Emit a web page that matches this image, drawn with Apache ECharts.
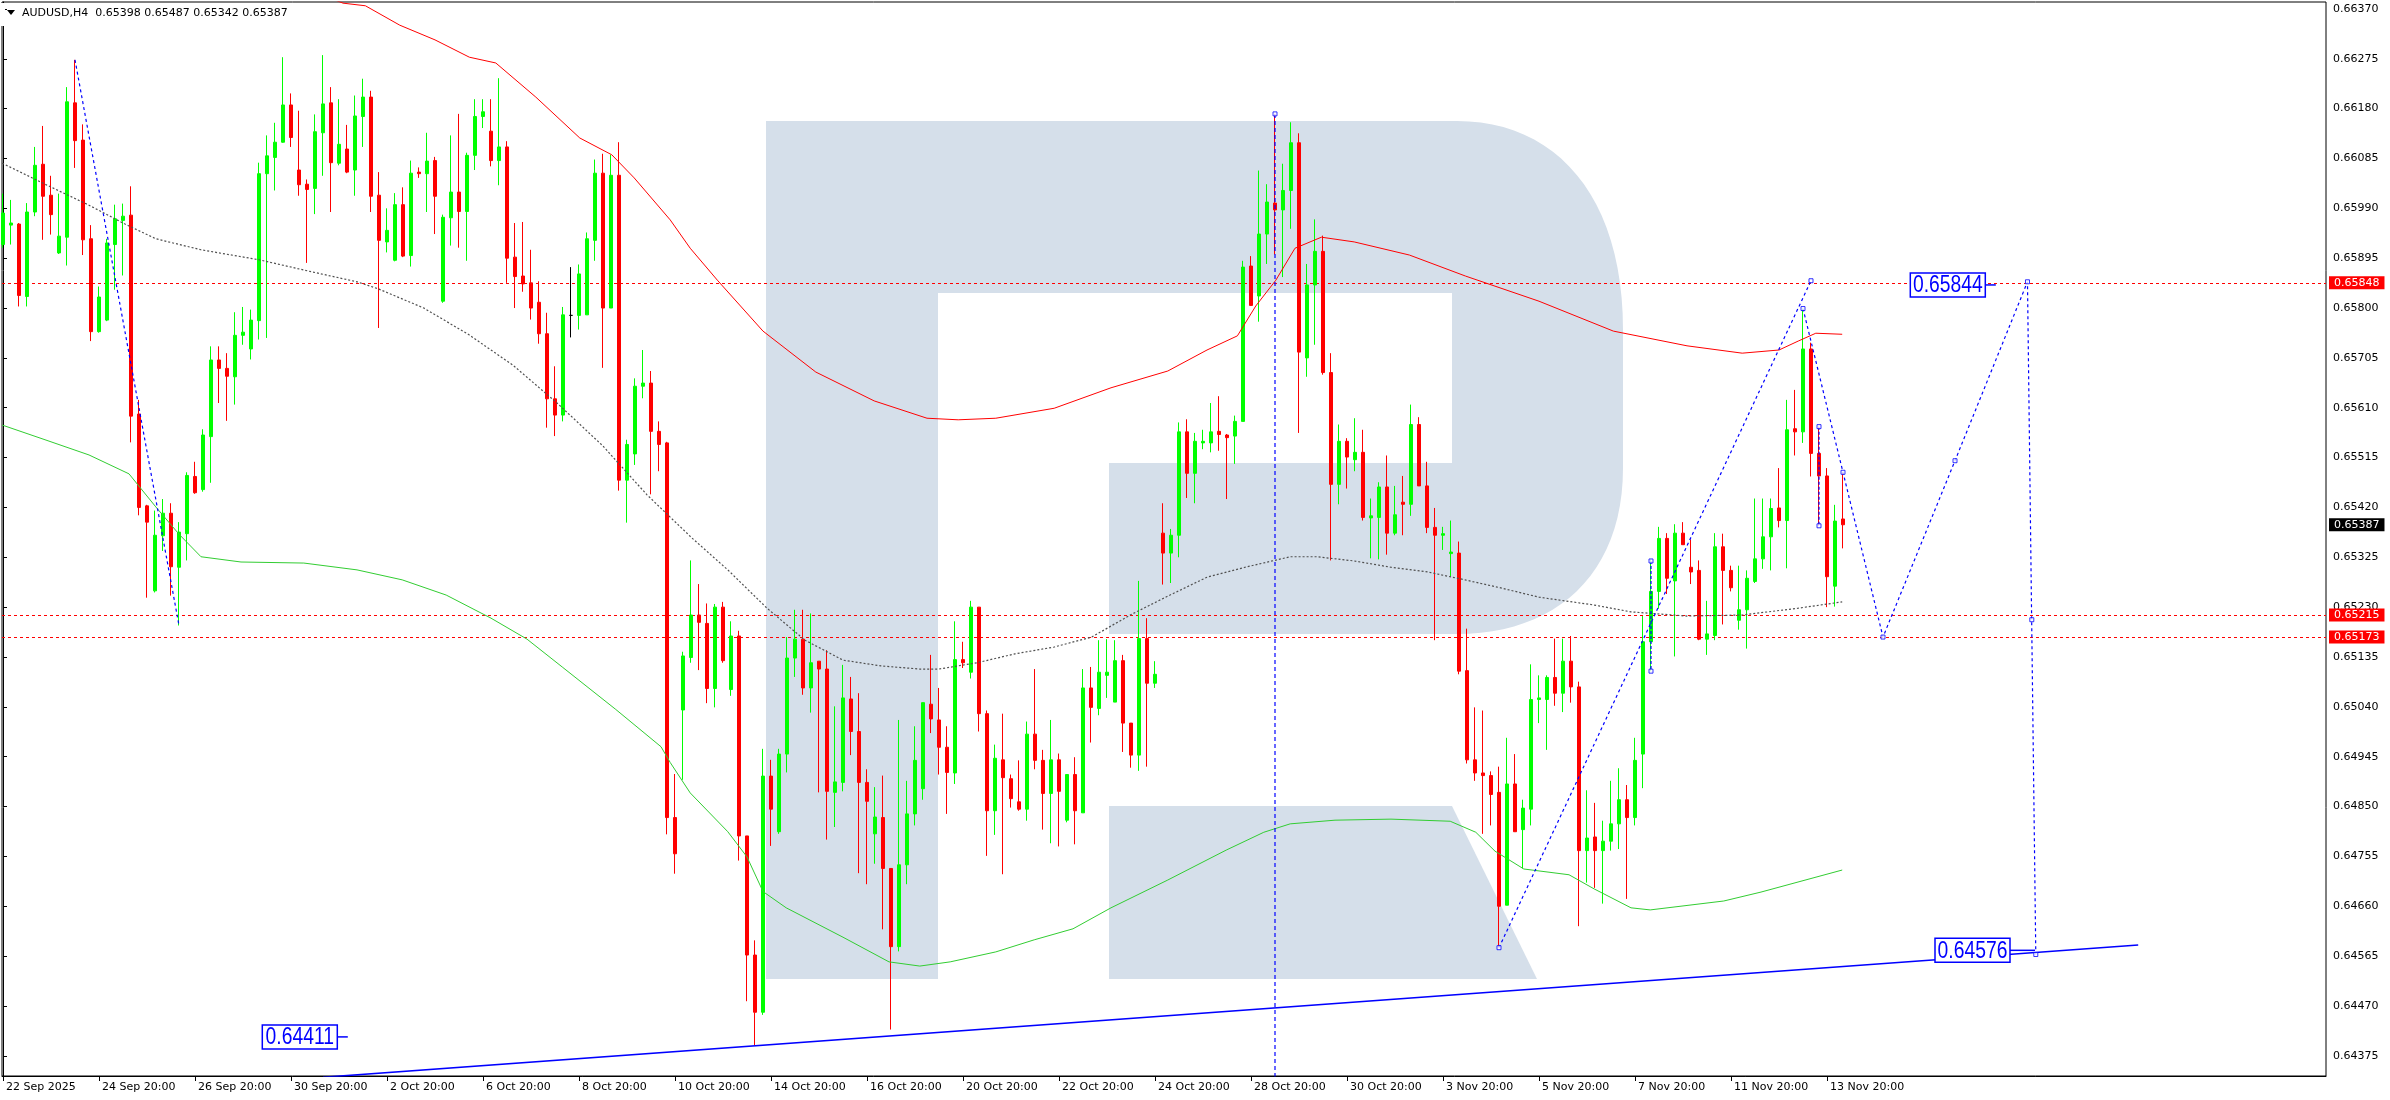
<!DOCTYPE html>
<html><head><meta charset="utf-8">
<script src="https://cdn.jsdelivr.net/npm/echarts@6/dist/echarts.min.js"></script>
<style>html,body{margin:0;padding:0;background:#fff;}#c{width:2390px;height:1100px;}</style>
</head><body><div id="c"></div>
<script>
// ---------- DATA ----------
const symbolName = 'AUDUSD,H4';
const tickIndex = [0,12,24,36,48,60,72,84,96,108,120,132,144,156,168,180,192,204,216,228];
const tickLabels = ['22 Sep 2025','24 Sep 20:00','26 Sep 20:00','30 Sep 20:00','2 Oct 20:00','6 Oct 20:00','8 Oct 20:00','10 Oct 20:00','14 Oct 20:00','16 Oct 20:00','20 Oct 20:00','22 Oct 20:00','24 Oct 20:00','28 Oct 20:00','30 Oct 20:00','3 Nov 20:00','5 Nov 20:00','7 Nov 20:00','11 Nov 20:00','13 Nov 20:00'];
const yTicks = [0.64375,0.64470,0.64565,0.64660,0.64755,0.64850,0.64945,0.65040,0.65135,0.65230,0.65325,0.65420,0.65515,0.65610,0.65705,0.65800,0.65895,0.65990,0.66085,0.66180,0.66275,0.66370];

const openP = [0.65921,0.65958,0.65960,0.65822,0.65983,0.66074,0.66015,0.65905,0.65935,0.66191,0.66120,0.65932,0.65755,0.65777,0.65921,0.65967,0.65977,0.65598,0.65423,0.65261,
0.65366,0.65409,0.65306,0.65370,0.65479,0.65454,0.65555,0.65701,0.65685,0.65669,0.65748,0.65722,0.65776,0.66056,0.66087,0.66116,0.66187,0.66063,0.66036,0.66028,
0.66134,0.66191,0.66076,0.66103,0.66063,0.66165,0.66202,0.66015,0.65926,0.65891,0.65997,0.65900,0.66059,0.66056,0.66081,0.65813,0.65972,0.66021,0.65984,0.66091,
0.66165,0.66137,0.66081,0.66107,0.65897,0.65861,0.65848,0.65811,0.65751,0.65627,0.65596,0.65786,0.65786,0.65787,0.65929,0.66057,0.65800,0.66053,0.65472,0.65522,
0.65651,0.65657,0.65565,0.65543,0.64829,0.65034,0.65134,0.65215,0.65199,0.65075,0.65230,0.65073,0.65175,0.64794,0.64567,0.64458,0.64908,0.64802,0.64950,0.65133,
0.65169,0.65076,0.65127,0.65112,0.64877,0.64896,0.65055,0.64993,0.64896,0.64798,0.64829,0.64732,0.64583,0.64739,0.64836,0.64884,0.65045,0.65015,0.64963,0.64914,
0.65130,0.65106,0.65230,0.65027,0.64842,0.64939,0.64903,0.64859,0.64845,0.64988,0.64938,0.64875,0.64939,0.64824,0.64911,0.64838,0.65076,0.65037,0.65100,0.65049,
0.65128,0.65009,0.64948,0.65170,0.65085,0.65371,0.65333,0.65367,0.65564,0.65485,0.65543,0.65543,0.65565,0.65558,0.65556,0.65584,0.65880,0.65823,0.65941,0.66000,
0.65987,0.66024,0.66115,0.65705,0.65844,0.65908,0.65677,0.65464,0.65546,0.65511,0.65525,0.65400,0.65401,0.65459,0.65371,0.65430,0.65426,0.65578,0.65461,0.65382,
0.65367,0.65332,0.65333,0.65109,0.64939,0.64914,0.64909,0.64877,0.64662,0.64893,0.64806,0.64845,0.65054,0.65054,0.65096,0.65066,0.65127,0.65078,0.64766,0.64792,
0.64766,0.64784,0.64817,0.64863,0.64829,0.64950,0.65164,0.65260,0.65361,0.65280,0.65371,0.65306,0.65300,0.65169,0.65176,0.65345,0.65300,0.65205,0.65225,0.65279,
0.65322,0.65364,0.65419,0.65395,0.65570,0.65564,0.65722,0.65523,0.65480,0.65270,0.65398];
const highP = [0.66018,0.66006,0.65962,0.66000,0.66107,0.66147,0.66052,0.66018,0.66221,0.66273,0.66150,0.65958,0.65841,0.65932,0.65997,0.65999,0.66032,0.65625,0.65425,0.65414,
0.65436,0.65428,0.65392,0.65487,0.65507,0.65569,0.65727,0.65727,0.65714,0.65792,0.65802,0.65797,0.66077,0.66129,0.66153,0.66278,0.66209,0.66176,0.66045,0.66169,
0.66282,0.66221,0.66198,0.66149,0.66205,0.66237,0.66214,0.66059,0.65990,0.66019,0.66030,0.66081,0.66068,0.66134,0.66088,0.65978,0.66129,0.66170,0.66096,0.66198,
0.66198,0.66198,0.66238,0.66118,0.65962,0.65964,0.65911,0.65851,0.65791,0.65689,0.65802,0.65878,0.65883,0.65944,0.66083,0.66094,0.66092,0.66116,0.65549,0.65666,
0.65720,0.65680,0.65584,0.65545,0.64912,0.65145,0.65319,0.65274,0.65237,0.65236,0.65240,0.65203,0.65185,0.64794,0.64595,0.64960,0.64939,0.64960,0.65173,0.65225,
0.65225,0.65218,0.65127,0.65148,0.65041,0.65120,0.65097,0.65066,0.64921,0.64887,0.64909,0.64732,0.65015,0.64899,0.65003,0.65048,0.65139,0.65076,0.65003,0.65203,
0.65164,0.65242,0.65230,0.65033,0.64968,0.65027,0.64911,0.64938,0.65012,0.65112,0.64958,0.65015,0.64951,0.64911,0.64944,0.65112,0.65116,0.65167,0.65169,0.65167,
0.65139,0.65009,0.65280,0.65209,0.65127,0.65428,0.65379,0.65582,0.65588,0.65562,0.65568,0.65619,0.65632,0.65560,0.65595,0.65890,0.65899,0.66062,0.66036,0.66170,
0.66075,0.66154,0.66133,0.65884,0.65969,0.65938,0.65714,0.65578,0.65552,0.65590,0.65568,0.65437,0.65468,0.65519,0.65461,0.65480,0.65616,0.65592,0.65507,0.65419,
0.65383,0.65395,0.65355,0.65189,0.65039,0.65033,0.64917,0.64926,0.64981,0.64950,0.64863,0.65121,0.65100,0.65100,0.65170,0.65170,0.65175,0.65088,0.64881,0.64857,
0.64823,0.64899,0.64923,0.64891,0.64981,0.65213,0.65321,0.65383,0.65371,0.65388,0.65392,0.65359,0.65319,0.65242,0.65371,0.65370,0.65309,0.65309,0.65300,0.65437,
0.65437,0.65437,0.65495,0.65625,0.65644,0.65799,0.65734,0.65574,0.65495,0.65425,0.65487];
const lowP = [0.65915,0.65921,0.65803,0.65803,0.65975,0.65930,0.65940,0.65903,0.65881,0.66067,0.65901,0.65737,0.65753,0.65775,0.65835,0.65862,0.65544,0.65405,0.65248,0.65258,
0.65337,0.65252,0.65195,0.65319,0.65446,0.65450,0.65467,0.65619,0.65585,0.65616,0.65730,0.65702,0.65740,0.65743,0.66024,0.66115,0.66107,0.66014,0.65886,0.65979,
0.66052,0.65983,0.66072,0.66057,0.66014,0.66107,0.65983,0.65762,0.65906,0.65889,0.65897,0.65879,0.66048,0.65983,0.65941,0.65810,0.65919,0.65915,0.65890,0.66063,
0.66143,0.66070,0.66034,0.65848,0.65800,0.65831,0.65778,0.65732,0.65572,0.65556,0.65584,0.65744,0.65759,0.65787,0.65890,0.65686,0.65800,0.65452,0.65391,0.65501,
0.65628,0.65445,0.65489,0.64797,0.64722,0.64901,0.65124,0.65110,0.65047,0.65039,0.65124,0.65061,0.64747,0.64479,0.64395,0.64453,0.64775,0.64798,0.64915,0.65097,
0.65063,0.65029,0.64877,0.64787,0.64811,0.64879,0.64948,0.64723,0.64702,0.64741,0.64616,0.64425,0.64574,0.64702,0.64814,0.64863,0.64990,0.64911,0.64836,0.64893,
0.65114,0.65094,0.64993,0.64756,0.64796,0.64721,0.64848,0.64842,0.64823,0.64921,0.64806,0.64780,0.64774,0.64820,0.64778,0.64838,0.64972,0.65024,0.65057,0.65049,
0.64954,0.64924,0.64918,0.64926,0.65076,0.65273,0.65276,0.65325,0.65438,0.65428,0.65531,0.65525,0.65528,0.65436,0.65503,0.65584,0.65805,0.65774,0.65884,0.65902,
0.65859,0.65951,0.65562,0.65669,0.65730,0.65673,0.65319,0.65426,0.65456,0.65489,0.65395,0.65323,0.65321,0.65330,0.65367,0.65367,0.65404,0.65461,0.65371,0.65167,
0.65339,0.65288,0.65102,0.64932,0.64899,0.64798,0.64814,0.64581,0.64662,0.64802,0.64732,0.64814,0.65009,0.64958,0.65042,0.65030,0.65048,0.64622,0.64705,0.64695,
0.64665,0.64766,0.64769,0.64674,0.64814,0.64885,0.65108,0.65227,0.65255,0.65136,0.65349,0.65274,0.65167,0.65139,0.65167,0.65197,0.65260,0.65187,0.65151,0.65276,
0.65303,0.65300,0.65382,0.65304,0.65519,0.65543,0.65479,0.65385,0.65230,0.65231,0.65342];
const closeP = [0.65981,0.65962,0.65824,0.65983,0.66072,0.66013,0.65978,0.65937,0.66193,0.66119,0.65930,0.65755,0.65821,0.65924,0.65970,0.65975,0.65594,0.65420,0.65392,0.65367,
0.65409,0.65307,0.65373,0.65481,0.65448,0.65558,0.65701,0.65685,0.65670,0.65748,0.65754,0.65777,0.66056,0.66090,0.66116,0.66187,0.66125,0.66035,0.66026,0.66136,
0.66189,0.66077,0.66112,0.66059,0.66166,0.66202,0.66013,0.65929,0.65948,0.65997,0.65899,0.66057,0.66056,0.66080,0.66013,0.65973,0.66021,0.65984,0.66091,0.66165,
0.66174,0.66081,0.66107,0.65895,0.65860,0.65846,0.65800,0.65751,0.65627,0.65596,0.65787,0.65786,0.65865,0.65932,0.66057,0.65800,0.66053,0.65472,0.65540,0.65651,
0.65657,0.65565,0.65540,0.64829,0.64760,0.65137,0.65215,0.65201,0.65075,0.65230,0.65128,0.65175,0.64794,0.64567,0.64458,0.64908,0.64845,0.64950,0.65133,0.65169,
0.65076,0.65124,0.65112,0.64879,0.64897,0.65057,0.64993,0.64896,0.64860,0.64830,0.64732,0.64583,0.64739,0.64836,0.64938,0.65048,0.65017,0.64963,0.64915,0.65130,
0.65124,0.65230,0.65027,0.64842,0.64942,0.64905,0.64865,0.64845,0.64988,0.64938,0.64875,0.64939,0.64879,0.64911,0.64842,0.65076,0.65039,0.65106,0.65106,0.65128,
0.65009,0.64948,0.65170,0.65085,0.65102,0.65333,0.65367,0.65564,0.65485,0.65546,0.65546,0.65564,0.65559,0.65553,0.65584,0.65878,0.65805,0.65941,0.66002,0.65987,
0.66024,0.66115,0.65716,0.65844,0.65908,0.65677,0.65464,0.65546,0.65516,0.65525,0.65401,0.65404,0.65459,0.65371,0.65406,0.65426,0.65578,0.65461,0.65382,0.65367,
0.65370,0.65335,0.65108,0.64939,0.64914,0.64909,0.64873,0.64660,0.64893,0.64802,0.64847,0.65054,0.65057,0.65096,0.65066,0.65127,0.65078,0.64766,0.64790,0.64766,
0.64784,0.64817,0.64863,0.64829,0.64938,0.65164,0.65260,0.65361,0.65285,0.65371,0.65349,0.65297,0.65169,0.65179,0.65345,0.65300,0.65267,0.65225,0.65285,0.65322,
0.65364,0.65418,0.65395,0.65568,0.65564,0.65722,0.65523,0.65480,0.65288,0.65394,0.65387];
const dojiIndex = [71];

const maRed = [[38,0.66408],[42.5,0.66381],[45.3,0.66376],[49.6,0.66339],[54,0.66311],[58.3,0.66278],[61.6,0.66267],[66.6,0.66202],[72.1,0.66124],[76.1,0.66092],[78.9,0.66048],[83.4,0.65968],[85.9,0.65914],[89.3,0.65853],[95,0.65756],[101.6,0.65678],[108.9,0.65623],[115.5,0.65590],[119.4,0.65587],[124.1,0.65590],[131.4,0.65609],[138.5,0.65648],[145.6,0.65680],[150.5,0.65720],[154.3,0.65747],[156.6,0.65804],[159.1,0.65853],[161.5,0.65914],[164.8,0.65935],[168.9,0.65926],[175.8,0.65901],[182.8,0.65861],[192,0.65813],[201.3,0.65756],[210.5,0.65728],[217.4,0.65714],[222,0.65720],[224.4,0.65737],[226.6,0.65752],[229.9,0.65750]];
const maGreen = [[-0.1,0.65577],[5.25,0.65549],[10.75,0.65520],[15.75,0.65484],[19.1,0.65421],[22,0.65369],[24.75,0.65326],[29.75,0.65316],[37.6,0.65314],[44.25,0.65301],[49.9,0.65282],[55.4,0.65253],[61,0.65209],[65.5,0.65169],[69.9,0.65116],[76.6,0.65035],[82.25,0.64964],[83.4,0.64934],[85.9,0.64876],[90.6,0.64802],[93,0.64754],[95,0.64688],[97.9,0.64657],[105,0.64601],[110.75,0.64554],[114.6,0.64546],[118.4,0.64554],[124.1,0.64573],[128.9,0.64596],[133.75,0.64617],[138.5,0.64657],[145.6,0.64710],[152.9,0.64767],[157.6,0.64801],[160.9,0.64817],[166.5,0.64824],[173.5,0.64826],[180.9,0.64822],[184.1,0.64801],[186.5,0.64765],[190.1,0.64731],[195.75,0.64720],[198.9,0.64693],[203.5,0.64657],[205.9,0.64653],[215.1,0.64670],[219.75,0.64687],[229.9,0.64729]];
const maGray = [[-0.1,0.66076],[5.25,0.66036],[10.75,0.65996],[15.25,0.65960],[19.1,0.65932],[24.75,0.65911],[32,0.65892],[38.6,0.65869],[44.25,0.65850],[47,0.65836],[52.6,0.65800],[58.25,0.65749],[63.75,0.65691],[69.4,0.65617],[75,0.65537],[80.5,0.65444],[86.1,0.65362],[90.6,0.65301],[95.5,0.65228],[100.25,0.65167],[105,0.65129],[109.75,0.65118],[114.6,0.65112],[117,0.65112],[121.75,0.65124],[126.5,0.65141],[131.4,0.65154],[136.1,0.65173],[140.9,0.65215],[145.6,0.65251],[150.5,0.65287],[155.25,0.65306],[160.9,0.65326],[164.25,0.65326],[168.9,0.65318],[173.5,0.65306],[178.1,0.65297],[182.75,0.65282],[187.4,0.65266],[192,0.65249],[198.9,0.65234],[203.5,0.65221],[210.5,0.65213],[217.4,0.65215],[224.4,0.65228],[229.9,0.65240]];

const redLevels = [0.65848, 0.65215, 0.65173];
const trendLine = [[40,0.64334],[266.9,0.64586]];
const waveDown = [[9,0.66273],[22,0.65195]];
const zigUp = [[187,0.64581],[226,0.65852]];
const zigForecast = [[225,0.65799],[230,0.65487],[235,0.65173],[244,0.65509],[253.06,0.65850],[254.1,0.64568]];
const verticalLine = [[159,0.66170],[159,0.64300]];
const bracket206 = [[206,0.65318],[206,0.65108]];
const bracket227 = [[227,0.65574],[227,0.65385]];
const markerPts = [[187,0.64581],[226,0.65852],[225,0.65799],[230,0.65487],[235,0.65173],[244,0.65509],[253.06,0.65850],[253.6,0.65206],[254.1,0.64568],[159,0.66170],[206,0.65318],[206,0.65108],[227,0.65574],[227,0.65385]];
const priceBoxes = [[43.1,0.64411],[249.1,0.65844],[254,0.64576]];

// ---------- CHART ----------
const FONT = '"DejaVu Sans", Verdana, sans-serif';
const XMIN = -0.125, XMAX = 290.375, YMIN = 0.643365, YMAX = 0.663832;
const BLUE = '#0000FF';
const lastClose = closeP[closeP.length - 1];

const candleData = openP.map((o, i) => {
  const v = [i, o, closeP[i], lowP[i], highP[i]];
  if (dojiIndex.indexOf(i) >= 0) {
    return {value: v, itemStyle: {color: '#000', color0: '#000', borderColor: '#000', borderColor0: '#000', borderColorDoji: '#000'}};
  }
  return v;
});

function lineSeries(data, color, type, width, z) {
  return {type: 'line', data: data, showSymbol: false, symbol: 'none', silent: true, animation: false,
    lineStyle: {color: color, type: type, width: width}, z: z, clip: true};
}

// watermark "R" outline (logo decoration, pixel space)
function bez(p0, p1, p2, p3, n) {
  const out = [];
  for (let k = 1; k <= n; k++) {
    const t = k / n, u = 1 - t;
    out.push([u*u*u*p0[0] + 3*u*u*t*p1[0] + 3*u*t*t*p2[0] + t*t*t*p3[0],
              u*u*u*p0[1] + 3*u*u*t*p1[1] + 3*u*t*t*p2[1] + t*t*t*p3[1]]);
  }
  return out;
}
const logoPts = [[766,121],[1457,121]]
  .concat(bez([1457,121],[1555,121],[1623,195],[1623,330],24))
  .concat([[1623,468]])
  .concat(bez([1623,468],[1623,575],[1555,634],[1457,634],24))
  .concat([[1109,634],[1109,463],[1452,463],[1452,293],[938,293],[938,979],[766,979]]);

const boxTick = [10.5, 10.5, 25];

const chart = echarts.init(document.getElementById('c'), null, {renderer: 'canvas', width: 2390, height: 1100});
chart.setOption({
  animation: false,
  backgroundColor: '#ffffff',
  grid: {left: 2, right: 64, top: 2, bottom: 24, show: true, borderColor: '#000', borderWidth: 1, backgroundColor: 'transparent'},
  xAxis: {
    type: 'value', min: XMIN, max: XMAX, position: 'bottom',
    axisLine: {show: true, onZero: false, lineStyle: {color: '#000', width: 1}},
    axisTick: {show: true, customValues: tickIndex, length: 5, lineStyle: {color: '#000'}},
    axisLabel: {customValues: tickIndex, formatter: v => tickLabels[tickIndex.indexOf(Math.round(v))] || '',
      align: 'left', padding: [0, 0, 0, 3], margin: 6, color: '#000', fontFamily: FONT, fontSize: 11},
    splitLine: {show: false}
  },
  yAxis: {
    type: 'value', min: YMIN, max: YMAX, position: 'right', scale: true,
    axisLine: {show: true, lineStyle: {color: '#000', width: 1}},
    axisTick: {show: true, customValues: yTicks, length: 4, lineStyle: {color: '#000'}},
    axisLabel: {customValues: yTicks, formatter: v => v.toFixed(5), margin: 7, color: '#000', fontFamily: FONT, fontSize: 11},
    splitLine: {show: false}
  },
  graphic: [
    {type: 'polygon', z: -10, silent: true, shape: {points: logoPts}, style: {fill: '#d5dfea'}},
    {type: 'polygon', z: -10, silent: true,
     shape: {points: [[1109, 806], [1452, 806], [1537, 979], [1109, 979]]},
     style: {fill: '#d5dfea'}},
    {type: 'rect', z: 100, silent: true, shape: {x: 0, y: 3, width: 5, height: 23}, style: {fill: '#fff'}},
    {type: 'polygon', z: 101, silent: true, shape: {points: [[7, 10], [15, 10], [11, 15]]}, style: {fill: '#000'}},
    {type: 'text', z: 101, silent: true, x: 22, y: 13,
     style: {text: symbolName + '  ' + [openP[openP.length-1], highP[highP.length-1], lowP[lowP.length-1], lastClose].map(v => v.toFixed(5)).join(' '),
       font: '11px ' + FONT, fill: '#000', verticalAlign: 'middle', textVerticalAlign: 'middle'}}
  ],
  series: [
    {
      type: 'candlestick', data: candleData, barWidth: 4, z: 5, clip: true, silent: true,
      itemStyle: {color: '#00FF00', color0: '#FF0000', borderColor: '#00FF00', borderColor0: '#FF0000', borderWidth: 1}
    },
    lineSeries(maRed, '#FF0000', 'solid', 1, 6),
    lineSeries(maGreen, '#32CD32', 'solid', 1, 6),
    lineSeries(maGray, '#505050', [2, 2], 1.2, 6),
    {
      type: 'line', data: [], silent: true, z: 7,
      markLine: {
        silent: true, symbol: 'none', animation: false, precision: 5,
        data: redLevels.map(v => ({yAxis: v, lineStyle: {color: '#FF0000', type: [3, 3], width: 1},
            label: {backgroundColor: '#FF0000', color: '#fff'}})),
        label: {show: true, position: 'end', distance: 3, formatter: p => Number(p.value).toFixed(5),
          fontFamily: FONT, fontSize: 11, lineHeight: 13, padding: [0, 5, 0, 5]}
      }
    },
    {
      type: 'line', data: [], silent: true, z: 7,
      markLine: {
        silent: true, symbol: 'none', animation: false, precision: 5,
        data: [{yAxis: lastClose}],
        lineStyle: {color: 'rgba(0,0,0,0)', width: 1, type: 'solid'},
        label: {show: true, position: 'end', distance: 3, formatter: p => Number(p.value).toFixed(5),
          backgroundColor: '#000000', color: '#ffffff', opacity: 1,
          fontFamily: FONT, fontSize: 11, lineHeight: 13, padding: [0, 5, 0, 5]}
      }
    },
    lineSeries(trendLine, BLUE, 'solid', 1.5, 8),
    lineSeries(waveDown, BLUE, [3, 3], 1.2, 8),
    lineSeries(zigUp, BLUE, [3, 3], 1.2, 8),
    lineSeries(zigForecast, BLUE, [3, 3], 1.2, 8),
    lineSeries(verticalLine, BLUE, [4, 3], 1.2, 8),
    lineSeries(bracket206, BLUE, [3, 2], 1.2, 8),
    lineSeries(bracket227, BLUE, [3, 2], 1.2, 8),
    {type: 'scatter', data: markerPts, symbol: 'rect', symbolSize: 4, silent: true, z: 9,
     itemStyle: {color: '#fff', borderColor: BLUE, borderWidth: 1}},
    {
      type: 'custom', data: priceBoxes, silent: true, z: 10, clip: false,
      renderItem: function (params, api) {
        const p = api.coord([api.value(0), api.value(1)]);
        const tl = boxTick[params.dataIndex];
        const bw = 75, bh = 24;
        const right = p[0] - tl;
        return {type: 'group', children: [
          {type: 'line', shape: {x1: right, y1: p[1], x2: p[0], y2: p[1]}, style: {stroke: BLUE, lineWidth: 1.5}},
          {type: 'rect', shape: {x: right - bw, y: p[1] - bh / 2, width: bw, height: bh}, style: {fill: '#fff', stroke: BLUE, lineWidth: 1.5}},
          {type: 'text', x: right - bw / 2, y: p[1] + 1, scaleX: 0.84,
           style: {text: api.value(1).toFixed(5), fill: BLUE, font: '23px "Liberation Sans", Arial, sans-serif',
             align: 'center', verticalAlign: 'middle', textAlign: 'center', textVerticalAlign: 'middle'}}
        ]};
      }
    }
  ]
});
</script>
</body></html>
